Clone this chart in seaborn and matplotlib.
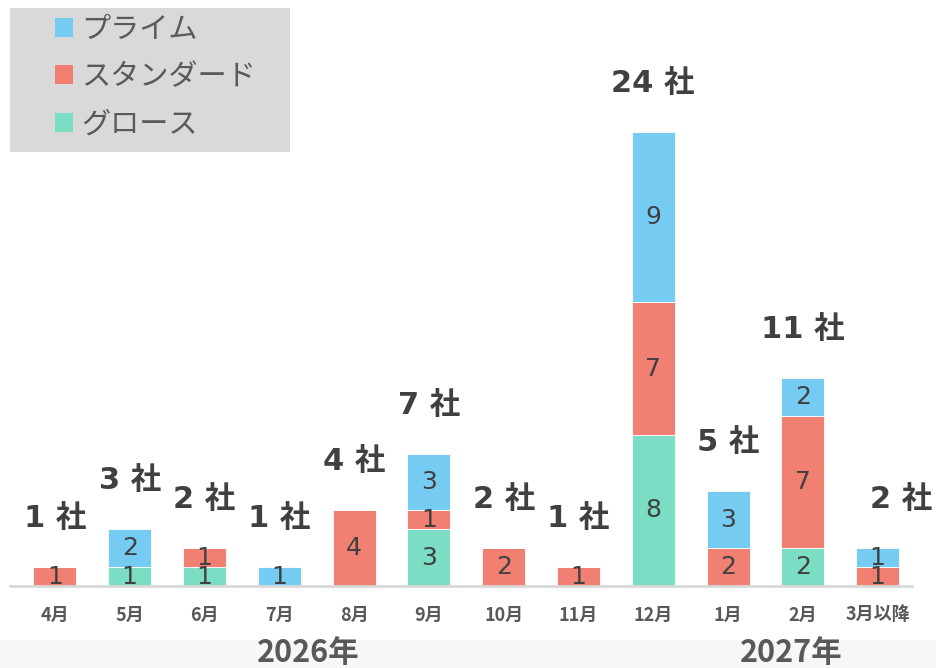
import matplotlib
matplotlib.use("Agg")
import matplotlib.pyplot as plt
import seaborn as sns
import pandas as pd
import numpy as np
from matplotlib.patches import Rectangle

months = ["4月", "5月", "6月", "7月", "8月", "9月", "10月", "11月", "12月", "1月", "2月", "3月以降"]
prime = [0, 2, 0, 1, 0, 3, 0, 0, 9, 3, 2, 1]
standard = [1, 0, 1, 0, 4, 1, 2, 1, 7, 2, 7, 1]
growth = [0, 1, 1, 0, 0, 3, 0, 0, 8, 0, 2, 0]
segments = ["プライム", "スタンダード", "グロース"]
colors = ["#75CBF2", "#F28072", "#7ADDC4"]
years = ["2026年", "2027年"]
unit = "社"

sns.set_theme(style="white")
plt.rcParams["font.family"] = ["Noto Sans CJK JP", "DejaVu Sans"]
num_family = ["DejaVu Sans", "Noto Sans CJK JP"]

rows = []
for seg, vals in zip(segments, [prime, standard, growth]):
    for m, v in zip(months, vals):
        rows.append({"month": m, "segment": seg, "value": v})
df = pd.DataFrame(rows)
df["month"] = pd.Categorical(df["month"], categories=months, ordered=True)

fig = plt.figure(figsize=(9.36, 6.68), dpi=100)
ax = fig.add_axes([10 / 936, 82 / 668, 902 / 936, 586 / 668])

sns.histplot(data=df, x="month", weights="value", hue="segment", hue_order=segments,
             palette=colors, multiple="stack", discrete=True, shrink=0.575,
             alpha=1, edgecolor="white", linewidth=0.6, legend=False, ax=ax)

ax.set_xlim(-0.6, 11.46)
ax.set_ylim(0, 31)
ax.set_xlabel("")
ax.set_ylabel("")
ax.set_yticks([])
ax.set_xticks(range(len(months)))
ax.set_xticklabels(months, fontsize=13, fontweight="bold", color="#595959")
ax.tick_params(axis="x", length=0, pad=14)
for s in ["top", "right", "left"]:
    ax.spines[s].set_visible(False)
ax.spines["bottom"].set_color("#D9D9D9")
ax.spines["bottom"].set_linewidth(2)

# segment labels
for cont in ax.containers:
    labels = [f"{int(round(b.get_height()))}" if b.get_height() > 0 else "" for b in cont]
    ax.bar_label(cont, labels=labels, label_type="center", fontsize=18, color="#404040",
                 family=num_family)

# totals
totals = np.array(prime) + np.array(standard) + np.array(growth)
for i, t in enumerate(totals):
    dx = 17 if i == len(totals) - 1 else 0
    ax.annotate(f"{t} {unit}", xy=(i, t), xytext=(dx, 35), textcoords="offset points",
                ha="center", va="center", fontsize=22, fontweight="bold", color="#404040",
                family=num_family)

# legend box
fig.patches.append(Rectangle((10 / 936, (668 - 152) / 668), 280 / 936, 144 / 668,
                             transform=fig.transFigure, facecolor="#D9D9D9",
                             edgecolor="none", zorder=0))
handles = [Rectangle((0, 0), 1, 1, facecolor=c, edgecolor="none") for c in colors]
leg = fig.legend(handles, segments, loc="upper left", bbox_to_anchor=(40 / 936, 1.0),
                 frameon=False, fontsize=21, labelcolor="#595959", handlelength=0.62,
                 handleheight=0.62, handletextpad=0.28, labelspacing=0.6, borderpad=0.0)

# bottom band with year labels
fig.patches.append(Rectangle((0, 0), 1, 28 / 668, transform=fig.transFigure,
                             facecolor="#F7F7F7", edgecolor="none", zorder=0))
fig.text(308 / 936, 15 / 668, years[0], ha="center", va="center", fontsize=22,
         fontweight="bold", color="#595959")
fig.text(791 / 936, 15 / 668, years[1], ha="center", va="center", fontsize=22,
         fontweight="bold", color="#595959")

fig.savefig("out.png", dpi=100)
